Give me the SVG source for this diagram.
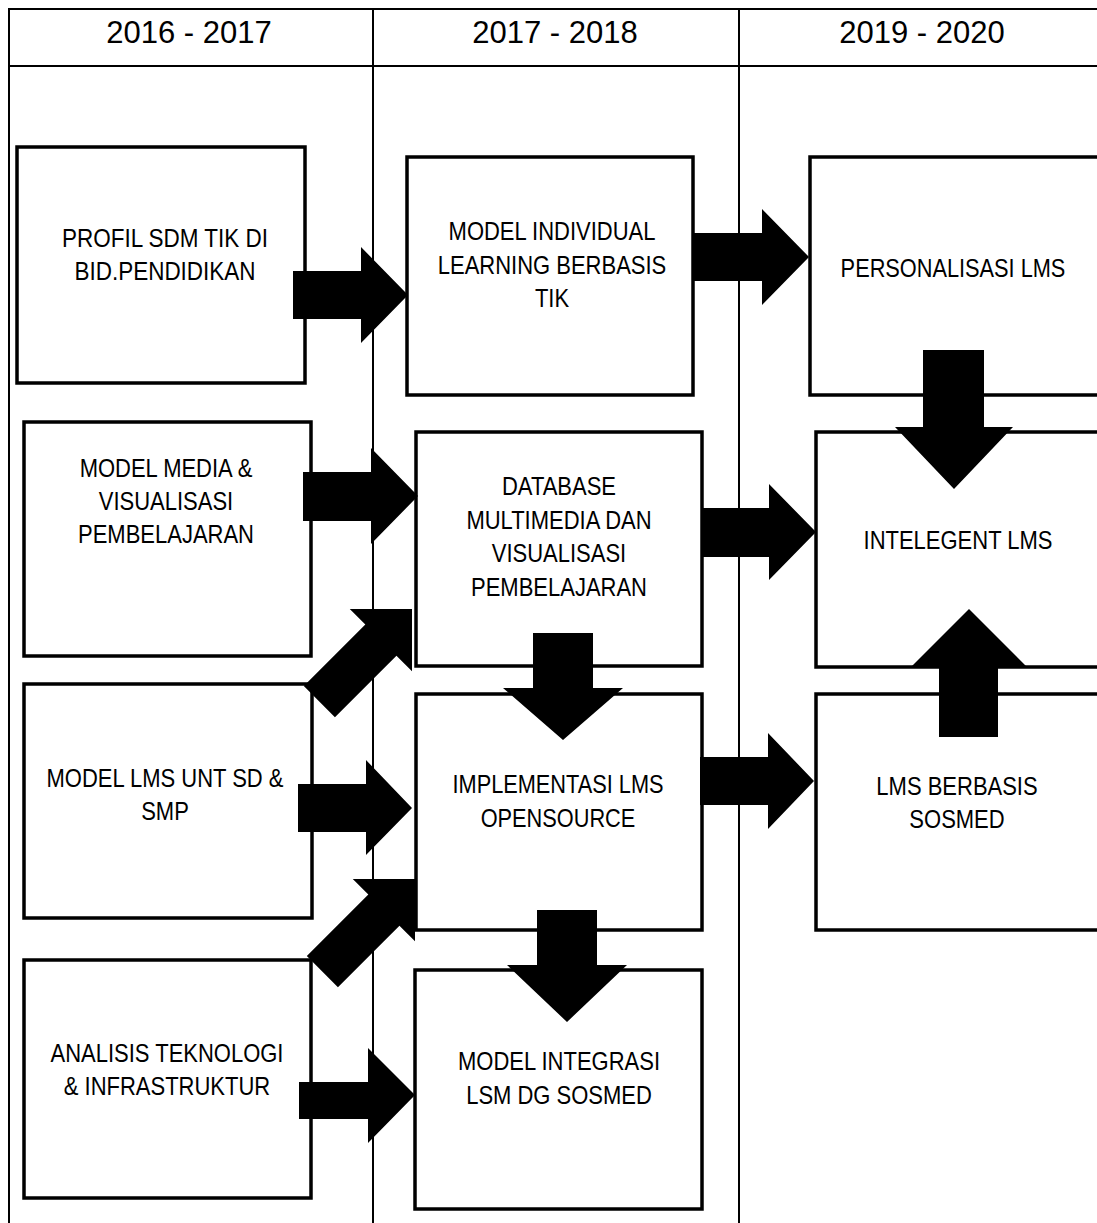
<svg xmlns="http://www.w3.org/2000/svg" width="1097" height="1223" viewBox="0 0 1097 1223">
  <style>
    .grid { stroke: #000; stroke-width: 2; fill: none; }
    .box { fill: #fff; stroke: #000; stroke-width: 3.5; }
    .arrow { fill: #000; stroke: none; }
    .hdr { font-family: "Liberation Sans", Arial, sans-serif; font-size: 31px; fill: #000; text-anchor: middle; }
    .lbl { font-family: "Liberation Sans", Arial, sans-serif; font-size: 25px; fill: #000; text-anchor: middle; }
  </style>
  <defs>
    <!-- diagonal block arrow, tip at origin, pointing along +x -->
    <polygon id="diagArrow" points="0,0 -44,-44 -44,-22 -131,-22 -131,22 -44,22 -44,44"/>
  </defs>

  <rect width="1097" height="1223" fill="#fff"/>

  <!-- timeline table -->
  <g id="table">
    <line class="grid" x1="9" y1="9" x2="1097" y2="9"/>
    <line class="grid" x1="9" y1="66" x2="1097" y2="66"/>
    <line class="grid" x1="9" y1="8" x2="9" y2="1223"/>
    <line class="grid" x1="373" y1="8" x2="373" y2="1223"/>
    <line class="grid" x1="739" y1="8" x2="739" y2="1223"/>
    <text class="hdr" x="189" y="43">2016 - 2017</text>
    <text class="hdr" x="555" y="43">2017 - 2018</text>
    <text class="hdr" x="922" y="43">2019 - 2020</text>
  </g>

  <!-- nodes -->
  <g id="profil-sdm">
    <rect class="box" x="17" y="147" width="288" height="236"/>
    <g transform="translate(165 0) scale(0.9 1)">
      <text class="lbl" x="0" y="247">PROFIL SDM TIK DI</text>
      <text class="lbl" x="0" y="280">BID.PENDIDIKAN</text>
    </g>
  </g>
  <g id="model-individual">
    <rect class="box" x="407" y="157" width="286" height="238"/>
    <g transform="translate(552 0) scale(0.88 1)">
      <text class="lbl" x="0" y="240">MODEL INDIVIDUAL</text>
      <text class="lbl" x="0" y="274">LEARNING BERBASIS</text>
      <text class="lbl" x="0" y="307">TIK</text>
    </g>
  </g>
  <g id="personalisasi-lms">
    <rect class="box" x="810" y="157" width="300" height="238"/>
    <g transform="translate(953 0) scale(0.87 1)">
      <text class="lbl" x="0" y="277">PERSONALISASI LMS</text>
    </g>
  </g>
  <g id="model-media">
    <rect class="box" x="24" y="422" width="287" height="234"/>
    <g transform="translate(166 0) scale(0.88 1)">
      <text class="lbl" x="0" y="477">MODEL MEDIA &amp;</text>
      <text class="lbl" x="0" y="510">VISUALISASI</text>
      <text class="lbl" x="0" y="543">PEMBELAJARAN</text>
    </g>
  </g>
  <g id="database-multimedia">
    <rect class="box" x="416" y="432" width="286" height="234"/>
    <g transform="translate(559 0) scale(0.88 1)">
      <text class="lbl" x="0" y="495">DATABASE</text>
      <text class="lbl" x="0" y="529">MULTIMEDIA DAN</text>
      <text class="lbl" x="0" y="562">VISUALISASI</text>
      <text class="lbl" x="0" y="596">PEMBELAJARAN</text>
    </g>
  </g>
  <g id="intelegent-lms">
    <rect class="box" x="816" y="432" width="300" height="235"/>
    <g transform="translate(958 0) scale(0.88 1)">
      <text class="lbl" x="0" y="549">INTELEGENT LMS</text>
    </g>
  </g>
  <g id="model-lms-sd-smp">
    <rect class="box" x="24" y="684" width="288" height="234"/>
    <g transform="translate(165 0) scale(0.88 1)">
      <text class="lbl" x="0" y="787">MODEL LMS UNT SD &amp;</text>
      <text class="lbl" x="0" y="820">SMP</text>
    </g>
  </g>
  <g id="implementasi-lms">
    <rect class="box" x="416" y="694" width="286" height="236"/>
    <g transform="translate(558 0) scale(0.87 1)">
      <text class="lbl" x="0" y="793">IMPLEMENTASI LMS</text>
      <text class="lbl" x="0" y="827">OPENSOURCE</text>
    </g>
  </g>
  <g id="lms-sosmed">
    <rect class="box" x="816" y="694" width="300" height="236"/>
    <g transform="translate(957 0) scale(0.88 1)">
      <text class="lbl" x="0" y="795">LMS BERBASIS</text>
      <text class="lbl" x="0" y="828">SOSMED</text>
    </g>
  </g>
  <g id="analisis-teknologi">
    <rect class="box" x="24" y="960" width="287" height="238"/>
    <g transform="translate(167 0) scale(0.88 1)">
      <text class="lbl" x="0" y="1062">ANALISIS TEKNOLOGI</text>
      <text class="lbl" x="0" y="1095">&amp; INFRASTRUKTUR</text>
    </g>
  </g>
  <g id="model-integrasi">
    <rect class="box" x="415" y="970" width="287" height="239"/>
    <g transform="translate(559 0) scale(0.88 1)">
      <text class="lbl" x="0" y="1070">MODEL INTEGRASI</text>
      <text class="lbl" x="0" y="1104">LSM DG SOSMED</text>
    </g>
  </g>

  <!-- block arrows between nodes -->
  <g id="connectors">
    <polygon class="arrow" points="293,271 361,271 361,247 408,295 361,343 361,319 293,319"/>
    <polygon class="arrow" points="694,233 762,233 762,209 809,257 762,305 762,281 694,281"/>
    <polygon class="arrow" points="923,350 984,350 984,427 1013,427 954,489 895,427 923,427"/>
    <polygon class="arrow" points="303,472 371,472 371,448 418,496 371,544 371,521 303,521"/>
    <polygon class="arrow" points="701,508 769,508 769,484 816,532 769,580 769,557 701,557"/>
    <use class="arrow" href="#diagArrow" transform="translate(412 609) rotate(-45)"/>
    <polygon class="arrow" points="533,633 593,633 593,688 623,688 563,740 503,688 533,688"/>
    <polygon class="arrow" points="939,737 998,737 998,668 1028,668 969,609 910,668 939,668"/>
    <polygon class="arrow" points="298,784 366,784 366,760 412,808 366,855 366,832 298,832"/>
    <polygon class="arrow" points="700,757 768,757 768,733 814,781 768,829 768,805 700,805"/>
    <use class="arrow" href="#diagArrow" transform="translate(415 879) rotate(-45)"/>
    <polygon class="arrow" points="537,910 597,910 597,965 627,965 567,1022 507,965 537,965"/>
    <polygon class="arrow" points="299,1082 368,1082 368,1048 415,1095 368,1143 368,1119 299,1119"/>
  </g>
</svg>
